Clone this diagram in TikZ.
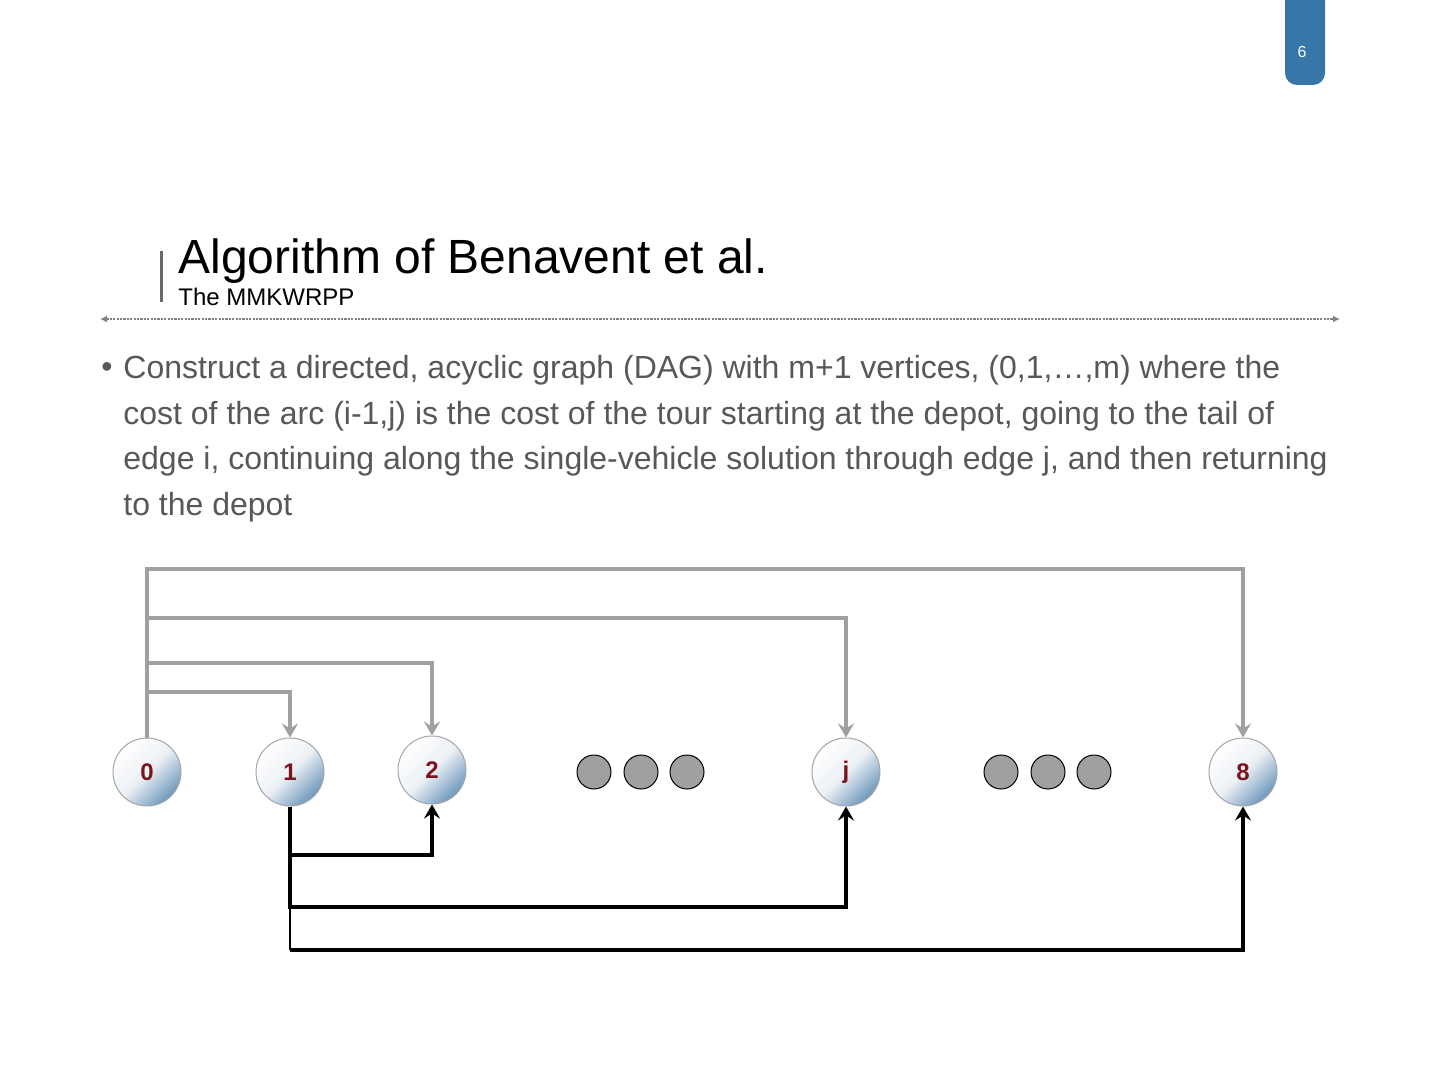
\documentclass[tikz,border=0pt]{standalone}
\usepackage{fontspec}
\setmainfont{Liberation Sans}
\usetikzlibrary{arrows.meta}
\definecolor{linegray}{RGB}{160,160,160}
\definecolor{tabblue}{RGB}{55,118,168}
\definecolor{nodeedge}{RGB}{165,165,165}
\definecolor{nodeblue}{RGB}{110,152,188}
\definecolor{nodemid}{RGB}{236,240,245}
\definecolor{labelred}{RGB}{125,18,28}
\definecolor{bodygray}{RGB}{88,88,88}
\definecolor{dotgray}{RGB}{130,130,130}
\definecolor{dotfill}{RGB}{160,160,160}
\begin{document}
\begin{tikzpicture}[x=0.5pt,y=-0.5pt,
  vert/.style={circle, minimum size=34pt, inner sep=0pt, draw=nodeedge, line width=0.5pt,
    top color=white, bottom color=nodeblue, middle color=nodemid, shading angle=45,
    font=\bfseries\fontsize{12}{12}\selectfont, text=labelred},
  dotnode/.style={circle, minimum size=17pt, inner sep=0pt, draw=black, line width=0.5pt, fill=dotfill},
  garc/.style={draw=linegray, line width=1.7pt},
  barc/.style={draw=black, line width=1.7pt},
  gtip/.style={-{Stealth[length=7pt,width=8pt,inset=2.5pt]}},
]
\useasboundingbox (0,0) rectangle (1440,1080);
\fill[white] (0,0) rectangle (1440,1080);
\begin{scope}
\clip (0,0) rectangle (1440,1080);
\fill[tabblue, rounded corners=6pt] (1285,-20) rectangle (1325,85);
\end{scope}
\node[text=white, font=\fontsize{8}{9}\selectfont] (pnum) at (1302,52) {6};

% title block
\draw[draw={rgb,255:red,105;green,105;blue,105}, line width=1.5pt] (161,251) coordinate (bartop) -- (161,302) coordinate (barbot);
\node[anchor=base west, inner sep=0pt, font=\fontsize{24}{28}\selectfont] (title) at (178,274) {Algorithm of Benavent et al.};
\node[anchor=base west, inner sep=0pt, font=\fontsize{12}{14}\selectfont] (subtitle) at (178,306) {The MMKWRPP};
\coordinate (dl) at (100,319);
\coordinate (dr) at (1340,319);
\draw[dotgray, line width=1.1pt, dash pattern=on 1.1pt off 0.6pt, {Latex[length=3.5pt,width=3.5pt]}-{Latex[length=3.5pt,width=3.5pt]}] (dl) -- (dr);

% body
\node[anchor=base west, inner sep=0pt, text=bodygray, font=\fontsize{16}{23}\selectfont] (bullet) at (101,378) {•};
\node[anchor=base west, inner sep=0pt, text=bodygray, align=left, font=\fontsize{16}{23}\selectfont] (body) at (123,516)
{Construct a directed, acyclic graph (DAG) with m+1 vertices, (0,1,…,m) where the\\
cost of the arc (i-1,j) is the cost of the tour starting at the depot, going to the tail of\\
edge i, continuing along the single-vehicle solution through edge j, and then returning\\
to the depot};

% vertices
\node[vert] (n0) at (147,772) {0};
\node[vert] (n1) at (290,772) {1};
\node[vert] (n2) at (432,770) {2};
\node[vert] (nj) at (846,772) {j};
\node[vert] (n8) at (1243,772) {8};
\node[dotnode] (d1) at (594,772) {};
\node[dotnode] (d2) at (641,772) {};
\node[dotnode] (d3) at (687,772) {};
\node[dotnode] (d4) at (1001,772) {};
\node[dotnode] (d5) at (1048,772) {};
\node[dotnode] (d6) at (1094,772) {};

% gray arcs (from 0)
\coordinate (g1) at (147,569);
\coordinate (g2) at (147,618);
\coordinate (g3) at (147,663);
\coordinate (g4) at (147,692);
\draw[garc, gtip] (n0.north) -- (g1) -| (n8.north);
\draw[garc, gtip] (g2) -| (nj.north);
\draw[garc, gtip] (g3) -| (n2.north);
\draw[garc, gtip] (g4) -| (n1.north);

% black arcs (from 1)
\coordinate (b1) at (290,855);
\coordinate (b2) at (290,907);
\coordinate (b3) at (290,950);
\draw[barc, gtip] (n1.south) -- (b1) -| (n2.south);
\draw[barc, gtip] (b1) -- (b2) -| (nj.south);
\draw[draw=black, line width=1pt] (b2) -- (b3);
\draw[barc, gtip] (b3) -| (n8.south);
\end{tikzpicture}
\end{document}
